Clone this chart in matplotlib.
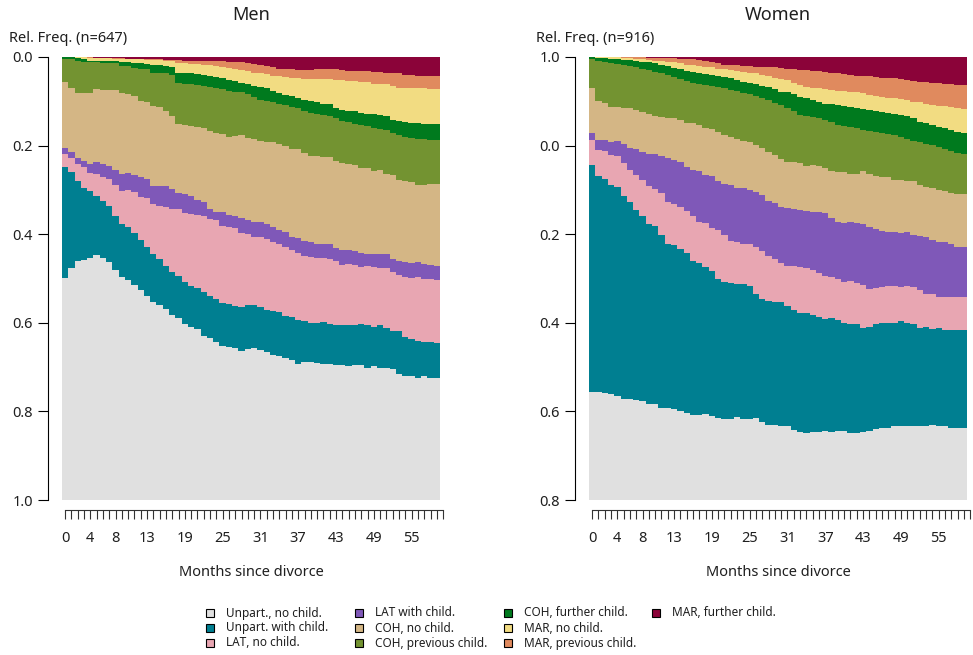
import numpy as np
import matplotlib.pyplot as plt
from matplotlib.patches import Rectangle

plt.rcParams['font.family'] = ['Noto Sans', 'DejaVu Sans']

state_labels = ['Unpart., no child.', 'Unpart. with child.', 'LAT, no child.',
                'LAT with child.', 'COH, no child.', 'COH, previous child.',
                'COH, further child.', 'MAR, no child.', 'MAR, previous child.',
                'MAR, further child.']
state_colors = ['#E0E0E0', '#007F91', '#E8A6B2', '#7F58B8', '#D4B685',
                '#739331', '#007A1E', '#F2DC82', '#E08A5E', '#8B0339']

shown_months = [0, 4, 8, 13, 19, 25, 31, 37, 43, 49, 55]

# cumulative relative frequency, from the bottom up to and including state k
# (month 0..59), men
men_cum_1 = [0.502, 0.524, 0.540, 0.542, 0.547, 0.553, 0.546, 0.538, 0.519, 0.504,
             0.497, 0.485, 0.474, 0.461, 0.448, 0.440, 0.431, 0.418, 0.410, 0.397,
             0.391, 0.386, 0.370, 0.366, 0.357, 0.348, 0.345, 0.342, 0.337, 0.341,
             0.342, 0.339, 0.335, 0.327, 0.325, 0.320, 0.316, 0.308, 0.311, 0.312,
             0.310, 0.308, 0.307, 0.305, 0.305, 0.303, 0.305, 0.305, 0.299, 0.303,
             0.299, 0.297, 0.296, 0.284, 0.281, 0.281, 0.275, 0.281, 0.275, 0.275]
men_cum_2 = [0.752, 0.740, 0.719, 0.705, 0.698, 0.687, 0.676, 0.664, 0.642, 0.623,
             0.617, 0.603, 0.587, 0.570, 0.555, 0.544, 0.529, 0.515, 0.506, 0.493,
             0.484, 0.478, 0.470, 0.461, 0.454, 0.445, 0.442, 0.439, 0.435, 0.440,
             0.440, 0.436, 0.429, 0.427, 0.425, 0.415, 0.414, 0.406, 0.403, 0.400,
             0.399, 0.401, 0.397, 0.394, 0.395, 0.395, 0.394, 0.397, 0.394, 0.391,
             0.394, 0.389, 0.382, 0.382, 0.369, 0.363, 0.360, 0.357, 0.357, 0.355]
men_cum_3 = [0.781, 0.773, 0.758, 0.752, 0.739, 0.737, 0.730, 0.725, 0.710, 0.698,
             0.700, 0.696, 0.685, 0.682, 0.668, 0.664, 0.662, 0.658, 0.656, 0.647,
             0.645, 0.643, 0.640, 0.634, 0.632, 0.619, 0.617, 0.615, 0.602, 0.600,
             0.594, 0.593, 0.589, 0.583, 0.578, 0.572, 0.564, 0.557, 0.551, 0.548,
             0.547, 0.546, 0.544, 0.540, 0.530, 0.533, 0.530, 0.527, 0.529, 0.527,
             0.524, 0.523, 0.514, 0.508, 0.504, 0.502, 0.504, 0.499, 0.498, 0.497]
men_cum_4 = [0.795, 0.786, 0.772, 0.765, 0.759, 0.763, 0.758, 0.754, 0.745, 0.736,
             0.738, 0.734, 0.728, 0.725, 0.709, 0.709, 0.709, 0.702, 0.692, 0.690,
             0.687, 0.677, 0.673, 0.658, 0.651, 0.649, 0.643, 0.640, 0.636, 0.631,
             0.628, 0.627, 0.623, 0.616, 0.610, 0.606, 0.594, 0.591, 0.585, 0.582,
             0.579, 0.579, 0.579, 0.568, 0.564, 0.564, 0.561, 0.557, 0.555, 0.555,
             0.555, 0.555, 0.544, 0.540, 0.537, 0.534, 0.538, 0.532, 0.530, 0.529]
men_cum_5 = [0.944, 0.931, 0.919, 0.919, 0.919, 0.928, 0.926, 0.926, 0.926, 0.919,
             0.916, 0.912, 0.901, 0.898, 0.889, 0.888, 0.877, 0.867, 0.849, 0.847,
             0.844, 0.841, 0.839, 0.833, 0.829, 0.826, 0.820, 0.822, 0.824, 0.818,
             0.816, 0.810, 0.809, 0.807, 0.803, 0.798, 0.792, 0.792, 0.784, 0.777,
             0.777, 0.775, 0.774, 0.765, 0.761, 0.758, 0.756, 0.750, 0.749, 0.743,
             0.745, 0.736, 0.734, 0.722, 0.719, 0.718, 0.711, 0.711, 0.713, 0.713]
men_cum_6 = [0.995, 0.995, 0.991, 0.989, 0.988, 0.988, 0.986, 0.986, 0.986, 0.980,
             0.980, 0.976, 0.974, 0.972, 0.965, 0.965, 0.963, 0.959, 0.941, 0.939,
             0.938, 0.937, 0.935, 0.932, 0.929, 0.927, 0.924, 0.922, 0.920, 0.916,
             0.909, 0.904, 0.901, 0.898, 0.895, 0.892, 0.888, 0.884, 0.878, 0.874,
             0.872, 0.869, 0.867, 0.862, 0.856, 0.853, 0.849, 0.847, 0.844, 0.840,
             0.838, 0.835, 0.828, 0.824, 0.820, 0.818, 0.816, 0.815, 0.813, 0.813]
men_cum_7 = [1.000, 1.000, 0.997, 0.995, 0.992, 0.992, 0.991, 0.991, 0.991, 0.989,
             0.988, 0.987, 0.986, 0.984, 0.983, 0.982, 0.980, 0.977, 0.965, 0.963,
             0.963, 0.962, 0.959, 0.957, 0.955, 0.952, 0.948, 0.945, 0.942, 0.939,
             0.935, 0.933, 0.929, 0.923, 0.919, 0.914, 0.911, 0.907, 0.903, 0.901,
             0.899, 0.895, 0.893, 0.886, 0.880, 0.879, 0.877, 0.874, 0.872, 0.871,
             0.869, 0.867, 0.858, 0.855, 0.853, 0.851, 0.850, 0.849, 0.849, 0.848]
men_cum_8 = [1.000, 1.000, 1.000, 1.000, 0.998, 0.998, 0.998, 0.997, 0.996, 0.995,
             0.995, 0.995, 0.995, 0.994, 0.993, 0.993, 0.992, 0.992, 0.987, 0.986,
             0.985, 0.984, 0.983, 0.982, 0.980, 0.978, 0.976, 0.973, 0.971, 0.968,
             0.965, 0.963, 0.962, 0.958, 0.956, 0.954, 0.953, 0.952, 0.950, 0.950,
             0.950, 0.951, 0.950, 0.948, 0.947, 0.946, 0.946, 0.944, 0.943, 0.940,
             0.938, 0.938, 0.935, 0.931, 0.931, 0.931, 0.930, 0.929, 0.928, 0.928]
men_cum_9 = [1.000, 1.000, 1.000, 1.000, 1.000, 0.998, 0.998, 0.998, 0.997, 0.997,
             0.996, 0.996, 0.996, 0.995, 0.995, 0.995, 0.994, 0.993, 0.993, 0.992,
             0.992, 0.992, 0.992, 0.991, 0.991, 0.990, 0.989, 0.989, 0.988, 0.986,
             0.984, 0.983, 0.980, 0.977, 0.974, 0.974, 0.973, 0.971, 0.971, 0.971,
             0.972, 0.974, 0.973, 0.973, 0.971, 0.968, 0.968, 0.968, 0.968, 0.967,
             0.967, 0.965, 0.965, 0.963, 0.959, 0.959, 0.958, 0.958, 0.957, 0.957]

# same for women
women_cum_1 = [0.243, 0.243, 0.241, 0.239, 0.235, 0.228, 0.228, 0.226, 0.223, 0.217,
               0.217, 0.208, 0.208, 0.205, 0.201, 0.197, 0.192, 0.192, 0.194, 0.190,
               0.186, 0.183, 0.183, 0.187, 0.183, 0.183, 0.184, 0.175, 0.169, 0.169,
               0.168, 0.167, 0.158, 0.154, 0.152, 0.154, 0.154, 0.156, 0.154, 0.156,
               0.156, 0.152, 0.152, 0.154, 0.156, 0.160, 0.162, 0.163, 0.166, 0.167,
               0.167, 0.166, 0.166, 0.168, 0.169, 0.166, 0.168, 0.163, 0.162, 0.163]
women_cum_2 = [0.756, 0.731, 0.725, 0.711, 0.706, 0.686, 0.673, 0.655, 0.641, 0.623,
               0.619, 0.598, 0.579, 0.576, 0.567, 0.557, 0.540, 0.534, 0.527, 0.517,
               0.500, 0.491, 0.489, 0.488, 0.488, 0.483, 0.465, 0.454, 0.450, 0.446,
               0.448, 0.439, 0.430, 0.423, 0.423, 0.418, 0.414, 0.409, 0.410, 0.406,
               0.399, 0.397, 0.397, 0.389, 0.391, 0.397, 0.400, 0.400, 0.399, 0.404,
               0.400, 0.397, 0.389, 0.391, 0.385, 0.389, 0.384, 0.384, 0.384, 0.384]
women_cum_3 = [0.813, 0.790, 0.788, 0.779, 0.777, 0.761, 0.746, 0.734, 0.722, 0.709,
               0.702, 0.692, 0.673, 0.668, 0.662, 0.652, 0.640, 0.628, 0.625, 0.615,
               0.609, 0.598, 0.585, 0.582, 0.579, 0.578, 0.570, 0.561, 0.551, 0.544,
               0.534, 0.529, 0.529, 0.527, 0.524, 0.519, 0.512, 0.506, 0.503, 0.500,
               0.493, 0.495, 0.489, 0.485, 0.476, 0.478, 0.480, 0.482, 0.483, 0.480,
               0.483, 0.480, 0.474, 0.465, 0.465, 0.459, 0.459, 0.459, 0.459, 0.459]
women_cum_4 = [0.829, 0.813, 0.813, 0.807, 0.810, 0.803, 0.795, 0.792, 0.785, 0.781,
               0.781, 0.777, 0.773, 0.767, 0.764, 0.752, 0.745, 0.743, 0.734, 0.732,
               0.720, 0.713, 0.711, 0.705, 0.704, 0.700, 0.695, 0.688, 0.676, 0.670,
               0.662, 0.660, 0.658, 0.655, 0.653, 0.651, 0.649, 0.647, 0.637, 0.628,
               0.626, 0.628, 0.625, 0.623, 0.616, 0.611, 0.608, 0.606, 0.606, 0.603,
               0.606, 0.598, 0.596, 0.594, 0.587, 0.583, 0.582, 0.577, 0.572, 0.570]
women_cum_5 = [0.929, 0.901, 0.897, 0.888, 0.888, 0.886, 0.884, 0.880, 0.875, 0.871,
               0.867, 0.865, 0.863, 0.862, 0.858, 0.852, 0.852, 0.846, 0.840, 0.837,
               0.831, 0.824, 0.820, 0.816, 0.810, 0.807, 0.801, 0.795, 0.786, 0.779,
               0.770, 0.764, 0.764, 0.761, 0.755, 0.756, 0.754, 0.749, 0.743, 0.740,
               0.740, 0.737, 0.737, 0.743, 0.736, 0.732, 0.730, 0.730, 0.722, 0.722,
               0.720, 0.719, 0.711, 0.707, 0.704, 0.700, 0.698, 0.692, 0.690, 0.690]
women_cum_6 = [0.995, 0.992, 0.989, 0.987, 0.985, 0.982, 0.980, 0.977, 0.973, 0.970,
               0.967, 0.963, 0.959, 0.954, 0.950, 0.946, 0.942, 0.939, 0.937, 0.934,
               0.932, 0.929, 0.926, 0.923, 0.919, 0.916, 0.912, 0.908, 0.903, 0.897,
               0.892, 0.886, 0.877, 0.869, 0.867, 0.864, 0.862, 0.858, 0.854, 0.846,
               0.844, 0.843, 0.840, 0.835, 0.833, 0.831, 0.829, 0.827, 0.824, 0.820,
               0.816, 0.811, 0.807, 0.804, 0.801, 0.797, 0.792, 0.788, 0.784, 0.781]
women_cum_7 = [1.000, 0.998, 0.997, 0.995, 0.995, 0.994, 0.993, 0.992, 0.989, 0.988,
               0.986, 0.982, 0.980, 0.976, 0.973, 0.969, 0.967, 0.965, 0.962, 0.959,
               0.957, 0.954, 0.952, 0.948, 0.944, 0.942, 0.939, 0.935, 0.932, 0.927,
               0.922, 0.920, 0.916, 0.910, 0.907, 0.903, 0.899, 0.895, 0.893, 0.892,
               0.890, 0.888, 0.886, 0.883, 0.880, 0.878, 0.875, 0.873, 0.871, 0.869,
               0.867, 0.862, 0.854, 0.850, 0.846, 0.843, 0.839, 0.835, 0.831, 0.828]
women_cum_8 = [1.000, 1.000, 1.000, 1.000, 0.999, 0.998, 0.997, 0.995, 0.995, 0.993,
               0.992, 0.991, 0.989, 0.988, 0.986, 0.983, 0.982, 0.980, 0.978, 0.977,
               0.974, 0.973, 0.971, 0.969, 0.967, 0.965, 0.963, 0.959, 0.957, 0.953,
               0.950, 0.948, 0.941, 0.937, 0.933, 0.931, 0.929, 0.927, 0.926, 0.924,
               0.923, 0.922, 0.920, 0.918, 0.914, 0.913, 0.910, 0.908, 0.907, 0.905,
               0.903, 0.899, 0.898, 0.894, 0.892, 0.890, 0.889, 0.888, 0.886, 0.882]
women_cum_9 = [1.000, 1.000, 1.000, 1.000, 1.000, 0.999, 0.999, 0.999, 0.999, 0.998,
               0.998, 0.998, 0.998, 0.997, 0.996, 0.995, 0.995, 0.993, 0.992, 0.989,
               0.987, 0.983, 0.982, 0.982, 0.980, 0.980, 0.978, 0.978, 0.977, 0.977,
               0.976, 0.974, 0.972, 0.971, 0.971, 0.969, 0.968, 0.967, 0.965, 0.963,
               0.962, 0.959, 0.958, 0.957, 0.956, 0.954, 0.953, 0.953, 0.952, 0.950,
               0.948, 0.946, 0.944, 0.943, 0.942, 0.941, 0.939, 0.938, 0.937, 0.937]

men_cum = [men_cum_1, men_cum_2, men_cum_3, men_cum_4, men_cum_5,
           men_cum_6, men_cum_7, men_cum_8, men_cum_9]
women_cum = [women_cum_1, women_cum_2, women_cum_3, women_cum_4, women_cum_5,
             women_cum_6, women_cum_7, women_cum_8, women_cum_9]

# y tick labels as printed in the original
men_ytick_labels = ['1.0', '0.8', '0.6', '0.4', '0.2', '0.0']
women_ytick_labels = ['0.8', '0.6', '0.4', '0.2', '0.0', '1.0']

W, H = 973, 655
TXT = '#1f1f1f'
fig = plt.figure(figsize=(W / 100, H / 100), dpi=100)


def draw_panel(left_px, cum, title, n, ylabels):
    n_months = len(cum[0])
    ax = fig.add_axes([left_px / W, (H - 500) / H, (n_months + 0.6) * 6.3 / W, 443 / H])
    edges = np.arange(n_months + 1)
    tops = [np.array(c) for c in cum] + [np.ones(n_months)]
    # paint from the top state down so the areas stack without seams
    for k in range(len(tops) - 1, -1, -1):
        ax.stairs(tops[k], edges, baseline=0, fill=True,
                  color=state_colors[k], lw=0)
    ax.set_xlim(0, n_months + 0.6)
    ax.set_ylim(0, 1)

    for s in ['top', 'right']:
        ax.spines[s].set_visible(False)
    ax.spines['left'].set_position(('outward', 10))
    ax.spines['left'].set_bounds(0, 1)
    ax.spines['bottom'].set_position(('outward', 7.5))
    ax.spines['bottom'].set_bounds(0.5, n_months + 0.5)
    ax.spines['left'].set_linewidth(0.8)
    ax.spines['bottom'].set_linewidth(0.8)
    ax.spines['bottom'].set_color('#333333')

    ax.set_yticks(np.linspace(0, 1, 6))
    ax.set_yticklabels(ylabels)
    xt = np.arange(n_months + 1) + 0.5
    ax.set_xticks(xt)
    ax.set_xticklabels([str(i) if i in shown_months else '' for i in range(n_months + 1)])
    ax.tick_params(axis='y', length=7, width=0.8, pad=4, labelsize=10.5, labelcolor=TXT)
    ax.tick_params(axis='x', length=6.5, width=0.8, pad=8.5, labelsize=10.5,
                   labelcolor=TXT, color='#333333')

    cx = (left_px + n_months * 6.3 / 2) / W
    fig.text(cx, 1 - 15 / H, title, ha='center', va='center', fontsize=13, color=TXT)
    fig.text(cx, 1 - 573 / H, 'Months since divorce', ha='center', va='center',
             fontsize=10.5, color=TXT)
    fig.text((left_px - 53) / W, 1 - 38 / H, 'Rel. Freq. (n=%d)' % n, ha='left',
             va='center', fontsize=10.5, color=TXT)
    return ax


draw_panel(62, men_cum, 'Men', 647, men_ytick_labels)
draw_panel(589, women_cum, 'Women', 916, women_ytick_labels)

# legend, filled column by column like the original
col_x = [206, 355, 504, 652]
row_y = [613, 628, 643]
for k, (lab, col) in enumerate(zip(state_labels, state_colors)):
    x = col_x[k // 3]
    y = row_y[k % 3]
    fig.add_artist(Rectangle((x / W, 1 - (y + 4) / H), 8 / W, 8 / H,
                             transform=fig.transFigure, facecolor=col,
                             edgecolor='black', lw=0.8))
    fig.text((x + 20) / W, 1 - y / H, lab, ha='left', va='center',
             fontsize=8.5, color=TXT)

fig.savefig('out.png', dpi=100)
